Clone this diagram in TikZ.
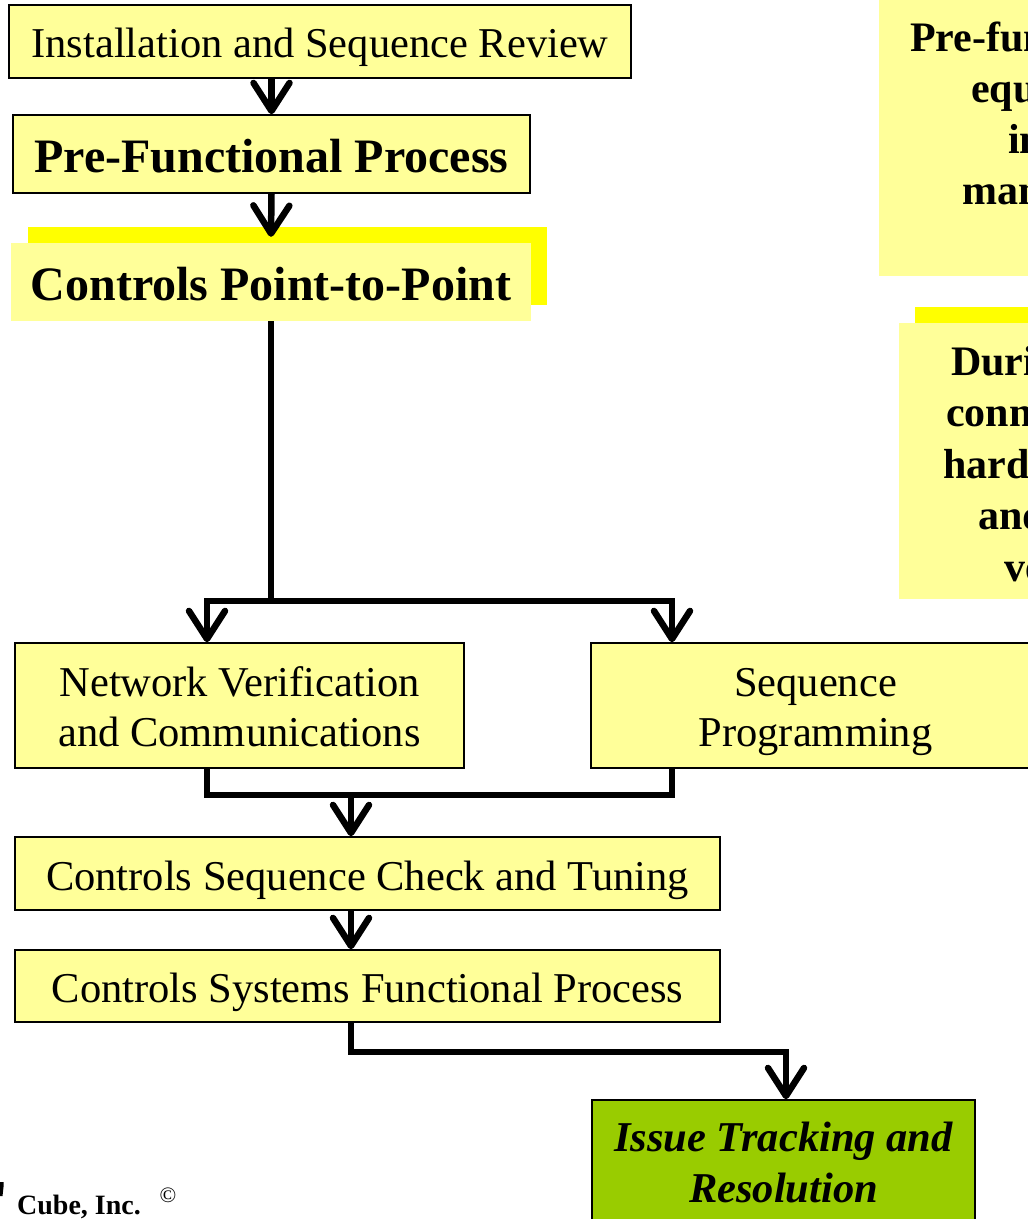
\documentclass[tikz,border=0pt]{standalone}
\usepackage{fontspec}
\setmainfont{Liberation Serif}
\usetikzlibrary{arrows.meta}
\definecolor{lightyel}{HTML}{FFFF99}
\definecolor{brightyel}{HTML}{FFFF00}
\definecolor{issuegreen}{HTML}{99CC00}
\newcommand\regfont{\fontsize{42.5}{50}\selectfont}
\newcommand\bigboldfont{\bfseries\fontsize{48}{54}\selectfont}
\newcommand\sidefont{\bfseries\fontsize{42}{50}\selectfont}
\begin{document}
\begin{tikzpicture}[x=1pt,y=-1pt,
  box/.style={draw=black, line width=1.6pt, fill=lightyel, inner sep=0pt},
  plainbox/.style={fill=lightyel, inner sep=0pt},
  txt/.style={inner sep=0pt, anchor=base, font=\regfont},
  boldtxt/.style={inner sep=0pt, anchor=base, font=\bigboldfont},
  sidetext/.style={inner sep=0pt, anchor=base west, font=\sidefont},
  conn/.style={line width=6.5pt, line join=miter},
  arr/.style={conn, -{Straight Barb[length=28pt,width=36pt,round]}}
]
\useasboundingbox (0,0) rectangle (1028,1219);
\clip (0,0) rectangle (1028,1219);

% right side cut-off boxes
\node[plainbox, anchor=north west, minimum width=200pt, minimum height=286pt] (side1) at (879,-10) {};
\node[sidetext] (s1a) at (910,51) {Pre-functional};
\node[sidetext] (s1b) at (971,102) {equipment};
\node[sidetext] (s1c) at (1008,153) {installation};
\node[sidetext] (s1d) at (962,204) {manufacturer};

\fill[brightyel] (915,307) rectangle (1100,583);
\node[plainbox, anchor=north west, minimum width=200pt, minimum height=276pt] (side2) at (899,323) {};
\node[sidetext] (s2a) at (951,375) {During};
\node[sidetext] (s2b) at (946,426.5) {connections};
\node[sidetext] (s2c) at (943,478) {hardware};
\node[sidetext] (s2d) at (978,529.5) {and};
\node[sidetext] (s2e) at (1004,581) {verification};

% main flow boxes
\node[box, minimum width=622pt, minimum height=73pt] (b1) at (320,41.5) {};
\node[txt] (t1) at (320,57) {Installation and Sequence Review};

\node[box, minimum width=517pt, minimum height=78pt] (b2) at (271.5,154) {};
\node[boldtxt] (t2) at (271.5,172) {Pre-Functional Process};

\fill[brightyel] (28,227) rectangle (547,305);
\node[plainbox, minimum width=520pt, minimum height=78pt] (b3) at (271,282) {};
\node[boldtxt] (t3) at (271,300) {Controls Point-to-Point};

\node[box, minimum width=449pt, minimum height=125pt] (b4) at (239.5,705.5) {};
\node[txt] (t4a) at (239.5,696) {Network Verification};
\node[txt] (t4b) at (239.5,746) {and Communications};

\node[box, minimum width=449pt, minimum height=125pt] (b5) at (815.5,705.5) {};
\node[txt] (t5a) at (815.5,696) {Sequence};
\node[txt] (t5b) at (815.5,746) {Programming};

\node[box, minimum width=705pt, minimum height=73pt] (b6) at (367.5,873.5) {};
\node[txt] (t6) at (367.5,890) {Controls Sequence Check and Tuning};

\node[box, minimum width=705pt, minimum height=72pt] (b7) at (367.5,986) {};
\node[txt] (t7) at (367.5,1002) {Controls Systems Functional Process};

\node[box, fill=issuegreen, minimum width=383pt, minimum height=126pt] (b8) at (783.5,1163) {};
\node[txt, font=\bfseries\itshape\fontsize{42.5}{50}\selectfont] (t8a) at (783.5,1151) {Issue Tracking and};
\node[txt, font=\bfseries\itshape\fontsize{42.5}{50}\selectfont] (t8b) at (783.5,1202) {Resolution};

% connector helper coordinates
\coordinate (p1) at (207,601);
\coordinate (p2) at (672,601);
\coordinate (q1) at (207,795);
\coordinate (q2) at (672,795);
\coordinate (m) at (351,795);
\coordinate (r) at (351,1052);
\coordinate (s) at (786,1052);

\draw[arr] (b2.north |- b1.south) -- (b2.north);
\draw[arr] (b2.south) -- ([yshift=6pt]b3.north);
\draw[arr] (b3.south) |- (p1) -- (p1 |- b4.north);
\draw[arr] (b3.south |- p2) -- (p2) -- (p2 |- b5.north);
\draw[conn] (q1 |- b4.south) -- (q1) -- (q2) -- (q2 |- b5.south);
\draw[arr] (m) -- (m |- b6.north);
\draw[arr] (m |- b6.south) -- (m |- b7.north);
\draw[arr] (m |- b7.south) -- (r) -- (s) -- (s |- b8.north);

% footer
\fill (0,1182) -- (3.5,1182) -- (3.5,1187) -- (2.5,1196) -- (0,1196) -- cycle;
\node[inner sep=0pt, anchor=base west, font=\bfseries\fontsize{28}{30}\selectfont] (cube) at (17,1214) {Cube, Inc.};
\node[inner sep=0pt, font=\fontsize{22}{24}\selectfont] (copy) at (168,1195) {©};
\end{tikzpicture}
\end{document}
